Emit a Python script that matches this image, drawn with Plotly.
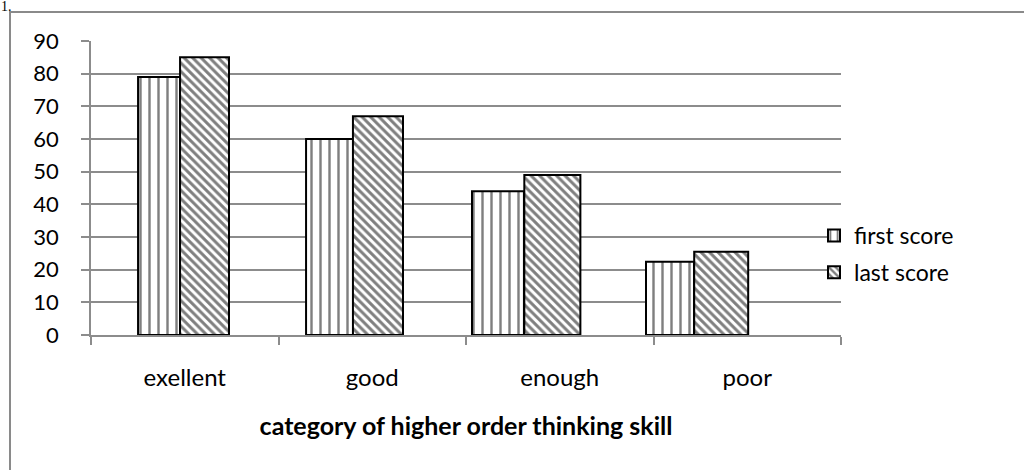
import plotly.graph_objects as go

# ---- data ----
categories = ["exellent", "good", "enough", "poor"]
first_score = [79, 60, 44, 22.4]
last_score = [85, 67, 49, 25.5]
y_ticks = [0, 10, 20, 30, 40, 50, 60, 70, 80, 90]
x_title = "category of higher order thinking skill"

# ---- layout constants (pixels) ----
W, H = 1024, 470
ML, MR, MT, MB = 91, 183, 41, 135
PW, PH = W - ML - MR, H - MT - MB
GRID = "#8c8c8c"
FONT = "Lato"

fig = go.Figure()
fig.add_trace(go.Bar(
    x=categories, y=first_score, name="first score", legendgroup="a",
    offset=[-0.249, -0.353, -0.468, -0.540], width=[0.224, 0.251, 0.277, 0.256],
    marker=dict(color="white", line=dict(color="black", width=2),
                pattern=dict(shape="|", fgcolor="black", bgcolor="white",
                             size=9, solidity=0.27, fillmode="overlay")),
))
fig.add_trace(go.Bar(
    x=categories, y=last_score, name="last score", legendgroup="b",
    offset=[-0.025, -0.103, -0.189, -0.283], width=[0.261, 0.267, 0.299, 0.288],
    marker=dict(color="white", line=dict(color="black", width=2),
                pattern=dict(shape="\\", fgcolor="black", bgcolor="white",
                             size=6, solidity=0.5, fillmode="overlay")),
))

# outer frame (partially outside the view, as in the reference)
fig.add_shape(type="rect", xref="paper", yref="paper",
              x0=(10 - ML) / PW, x1=1.6, y0=-1.0, y1=1 + (MT - 12) / PH,
              line=dict(color="#8a8a8a", width=2), fillcolor="rgba(0,0,0,0)",
              layer="below")

fig.add_annotation(text="1.", xref="paper", yref="paper",
                   x=(0 - ML) / PW, y=1 + (MT + 2) / PH, xanchor="left", yanchor="top",
                   showarrow=False, font=dict(family="Liberation Serif", size=14, color="black"),
                   borderpad=0)

fig.update_layout(
    width=W, height=H,
    margin=dict(l=ML, r=MR, t=MT, b=MB, autoexpand=False),
    paper_bgcolor="white", plot_bgcolor="white",
    barmode="group",
    font=dict(family=FONT, color="black"),
    showlegend=True,
    legend=dict(x=(814 - ML) / PW, xanchor="left", y=(335 - 254) / PH, yanchor="middle",
                bgcolor="rgba(0,0,0,0)", font=dict(size=23, family=FONT, color="black"),
                traceorder="grouped", tracegroupgap=4, itemclick=False),
)
fig.update_yaxes(
    range=[0, 90], tickvals=y_ticks, showgrid=True, gridcolor=GRID, gridwidth=1.5,
    showline=True, linecolor=GRID, linewidth=1.5, ticks="outside", ticklen=8,
    tickcolor=GRID, tickwidth=1.5, tickfont=dict(size=22, family=FONT, color="black"),
    ticklabelstandoff=18, zeroline=False, fixedrange=True,
)
fig.update_xaxes(
    showline=True, linecolor=GRID, linewidth=1.5, ticks="outside", ticklen=8,
    tickcolor=GRID, tickwidth=1.5, tickson="boundaries",
    tickfont=dict(size=24, family=FONT, color="black"), ticklabelstandoff=20,
    title=dict(text="<b>" + x_title + "</b>", standoff=28,
               font=dict(size=25, family=FONT, color="black")),
    fixedrange=True,
)

fig.write_html("out.html", config={"displayModeBar": False},
               post_script="document.body.style.margin='0';")
